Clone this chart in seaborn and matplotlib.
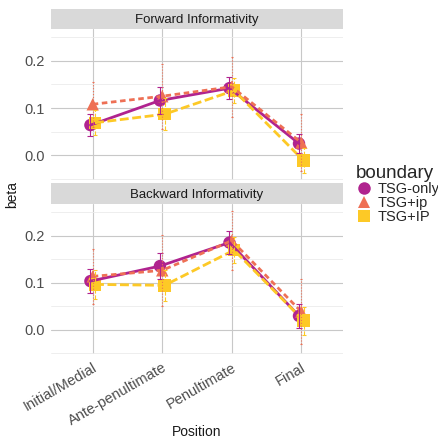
import matplotlib
matplotlib.use("Agg")
import matplotlib.pyplot as plt
from matplotlib.lines import Line2D
import numpy as np
import pandas as pd
import seaborn as sns

positions = ["Initial/Medial", "Ante-penultimate", "Penultimate", "Final"]
boundaries = ["TSG-only", "TSG+ip", "TSG+IP"]
panels = ["Forward Informativity", "Backward Informativity"]

# means and half-widths of the error bars
fwd_only = [0.064, 0.116, 0.142, 0.025]
fwd_only_err = [0.023, 0.028, 0.023, 0.021]
fwd_ip = [0.108, 0.125, 0.145, 0.027]
fwd_ip_err = [0.047, 0.069, 0.063, 0.060]
fwd_IP = [0.069, 0.087, 0.137, -0.011]
fwd_IP_err = [0.026, 0.034, 0.027, 0.027]

bwd_only = [0.103, 0.135, 0.185, 0.029]
bwd_only_err = [0.026, 0.027, 0.025, 0.025]
bwd_ip = [0.113, 0.126, 0.189, 0.038]
bwd_ip_err = [0.058, 0.075, 0.063, 0.069]
bwd_IP = [0.096, 0.094, 0.169, 0.019]
bwd_IP_err = [0.031, 0.033, 0.028, 0.030]

values = {
    "Forward Informativity": [(fwd_only, fwd_only_err), (fwd_ip, fwd_ip_err), (fwd_IP, fwd_IP_err)],
    "Backward Informativity": [(bwd_only, bwd_only_err), (bwd_ip, bwd_ip_err), (bwd_IP, bwd_IP_err)],
}

colors = {"TSG-only": "#B0238F", "TSG+ip": "#EE7055", "TSG+IP": "#FDC926"}
markers = {"TSG-only": "o", "TSG+ip": "^", "TSG+IP": "s"}
dashes = {"TSG-only": "", "TSG+ip": (2.0, 1.3), "TSG+IP": (3.2, 1.3)}
err_styles = {"TSG-only": "-", "TSG+ip": ":", "TSG+IP": "--"}
caps = {"TSG-only": 2, "TSG+ip": 1, "TSG+IP": 1.5}
dodge = {"TSG-only": -0.033, "TSG+ip": 0.0, "TSG+IP": 0.033}

rows = []
for panel in panels:
    for b, (m, e) in zip(boundaries, values[panel]):
        for i, p in enumerate(positions):
            rows.append({"panel": panel, "boundary": b, "position": p,
                         "x": i + dodge[b], "beta": m[i], "err": e[i]})
df = pd.DataFrame(rows)

sns.set_style("white")
plt.rcParams["font.family"] = ["Liberation Sans", "DejaVu Sans"]

W, H = 438, 443
fig = plt.figure(figsize=(W / 100, H / 100), dpi=100)

# panel boxes in pixels: (left, top, right, bottom)
boxes = [(51, 29, 343, 180), (51, 204, 343, 354)]
strips = [(51, 9, 343, 29), (51, 183, 343, 204)]

def fx(px):
    return px / W

def fy(py):
    return 1 - py / H

axes = []
for panel, (l, t, r, b), (sl, st, sr, sb) in zip(panels, boxes, strips):
    ax = fig.add_axes([fx(l), fy(b), fx(r) - fx(l), fy(t) - fy(b)])
    sax = fig.add_axes([fx(sl), fy(sb), fx(sr) - fx(sl), fy(st) - fy(sb)])
    sax.set_facecolor("#D9D9D9")
    sax.set_xticks([])
    sax.set_yticks([])
    for s in sax.spines.values():
        s.set_visible(False)
    sax.text(0.5, 0.45, panel, ha="center", va="center", fontsize=9.5, color="#1A1A1A",
             transform=sax.transAxes)

    sub = df[df["panel"] == panel]
    sns.scatterplot(data=sub, x="x", y="beta", hue="boundary", style="boundary",
                    palette=colors, markers=markers, s=80, linewidth=0,
                    ax=ax, legend=False, zorder=3)
    sns.lineplot(data=sub, x="x", y="beta", hue="boundary", style="boundary",
                 palette=colors, dashes=dashes, linewidth=2.0, ax=ax,
                 legend=False, zorder=4, errorbar=None)
    for bnd in boundaries:
        g = sub[sub["boundary"] == bnd]
        _, cl, bars = ax.errorbar(g["x"], g["beta"], yerr=g["err"], fmt="none",
                                  ecolor=colors[bnd], elinewidth=0.8, capsize=caps[bnd],
                                  capthick=0.8, zorder=5)
        for bc in bars:
            bc.set_linestyle(err_styles[bnd])

    ax.set_xlim(-0.6, 3.6)
    ax.set_ylim(-0.052, 0.267)
    ax.set_yticks([0.0, 0.1, 0.2])
    ax.set_yticklabels(["0.0", "0.1", "0.2"])
    ax.set_yticks([-0.05, 0.05, 0.15, 0.25], minor=True)
    ax.set_xticks(range(len(positions)))
    ax.grid(which="major", color="#C8C8C8", linewidth=0.8)
    ax.grid(which="minor", axis="y", color="#EBEBEB", linewidth=0.6)
    ax.set_axisbelow(True)
    for s in ax.spines.values():
        s.set_visible(False)
    ax.tick_params(axis="both", which="major", length=3, width=0.6, color="#B3B3B3",
                   labelcolor="#4D4D4D", labelsize=10.5, pad=1.5)
    ax.tick_params(axis="both", which="minor", length=0)
    ax.set_xlabel("")
    ax.set_ylabel("")
    axes.append(ax)

axes[0].set_xticklabels([])
axes[1].set_xticklabels(positions, rotation=30, ha="right", rotation_mode="anchor")

fig.text(fx(12), fy(195), "beta", rotation=90, ha="center", va="center", fontsize=10, color="#1A1A1A")
fig.text(fx(197), fy(432), "Position", ha="center", va="center", fontsize=10, color="#1A1A1A")

handles = [Line2D([], [], linestyle="none", marker=markers[b], color=colors[b],
                  markersize=9, markeredgewidth=0) for b in boundaries]
leg = fig.legend(handles, boundaries, title="boundary", loc="upper left",
                 bbox_to_anchor=(fx(350), fy(159)), frameon=False, fontsize=10.5,
                 title_fontsize=13.5, handlelength=1.1, handletextpad=0.4,
                 labelspacing=0.0, borderaxespad=0)
leg._legend_box.align = "left"

fig.savefig("out.png", dpi=100)
